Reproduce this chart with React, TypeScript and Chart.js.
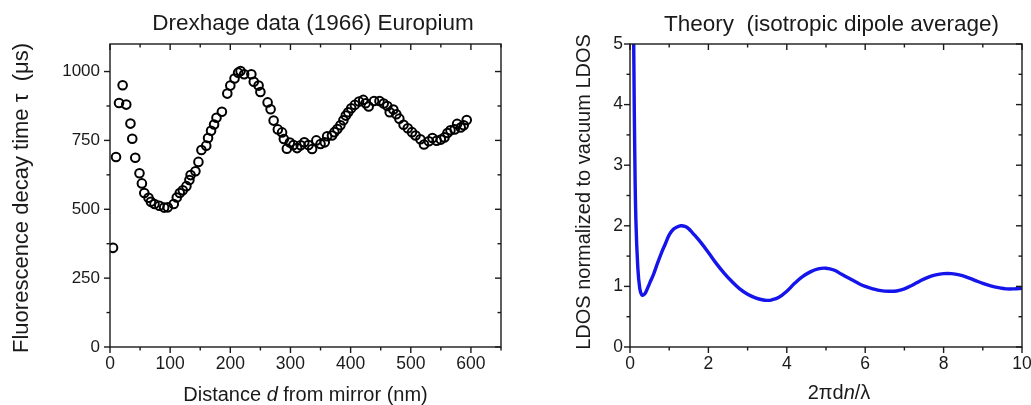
import React, { useEffect, useRef } from "react";
import { Chart, registerables } from "chart.js";

Chart.register(...registerables);

// ---------------- DATA ----------------
// Left panel: Drexhage data (1966), distance d (nm) and decay time (µs)
const drexhageDistance = [
  5, 10, 15, 21, 27, 34, 37, 42, 49, 53, 57, 64, 68, 74, 82, 90, 96, 106, 111, 116,
  121, 127, 132, 134, 142, 147, 152, 160, 163, 168, 173, 177, 186, 195, 200, 207, 213, 217, 223, 235,
  239, 247, 250, 262, 267, 272, 279, 286, 289, 294, 299, 305, 311, 317, 323, 330, 336, 343, 350, 357,
  361, 369, 373, 378, 383, 388, 392, 396, 401, 407, 414, 421, 425, 430, 439, 448, 455, 461, 465, 471,
  476, 481, 488, 495, 502, 508, 516, 522, 530, 536, 543, 550, 556, 561, 566, 573, 577, 583, 588, 593,
];
const drexhageLifetime = [
  360, 690, 886, 950, 880, 811, 756, 687, 631, 594, 559, 542, 527, 519, 513, 506, 507, 519, 543, 559,
  569, 584, 606, 624, 638, 672, 715, 731, 759, 785, 808, 832, 854, 920, 949, 975, 996, 1002, 990, 990,
  963, 949, 926, 888, 863, 822, 790, 779, 755, 720, 742, 733, 722, 732, 743, 733, 719, 750, 737, 743,
  765, 768, 780, 791, 805, 823, 840, 852, 867, 879, 891, 897, 885, 873, 893, 893, 884, 875, 852, 862,
  845, 829, 807, 794, 780, 768, 754, 735, 747, 759, 749, 753, 761, 777, 787, 790, 810, 797, 805, 824,
];
const leftXTicks = [0, 100, 200, 300, 400, 500, 600];
const leftXMinor = [50, 150, 250, 350, 450, 550, 650];
const leftYTicks = [0, 250, 500, 750, 1000];
const leftYMinor = [125, 375, 625, 875];

// Right panel: theory, 2πdn/λ and normalized LDOS
const phase = [
  0.06, 0.08, 0.1, 0.12, 0.15, 0.2, 0.25, 0.3, 0.35, 0.4, 0.5, 0.6, 0.7, 0.8, 0.9, 1.0, 1.1, 1.2, 1.3, 1.4,
  1.5, 1.6, 1.8, 2.0, 2.2, 2.4, 2.6, 2.8, 3.0, 3.2, 3.4, 3.5, 3.6, 3.8, 4.0, 4.2, 4.4, 4.6, 4.8, 5.0,
  5.2, 5.4, 5.6, 5.8, 6.0, 6.2, 6.4, 6.6, 6.8, 7.0, 7.2, 7.4, 7.6, 7.8, 8.0, 8.2, 8.4, 8.6, 8.8, 9.0,
  9.2, 9.4, 9.6, 9.8, 10.0,
];
const ldos = [
  9.0, 6.2, 4.6, 3.3, 2.1, 1.3, 0.96, 0.86, 0.86, 0.9, 1.05, 1.2, 1.38, 1.55, 1.7, 1.85, 1.94, 1.98, 2.0, 1.99,
  1.95, 1.88, 1.73, 1.56, 1.38, 1.22, 1.08, 0.96, 0.87, 0.81, 0.775, 0.77, 0.775, 0.82, 0.92, 1.05, 1.16, 1.24, 1.29, 1.3,
  1.27, 1.2, 1.13, 1.06, 1.0, 0.96, 0.93, 0.92, 0.925, 0.96, 1.02, 1.09, 1.15, 1.19, 1.21, 1.21, 1.19, 1.15, 1.1, 1.05,
  1.01, 0.98, 0.96, 0.96, 0.97,
];
const rightXTicks = [0, 2, 4, 6, 8, 10];
const rightXMinor = [1, 3, 5, 7, 9];
const rightYTicks = [0, 1, 2, 3, 4, 5];
const rightYMinor = [0.5, 1.5, 2.5, 3.5, 4.5];

const leftTitle = "Drexhage data (1966) Europium";
const rightTitle = "Theory  (isotropic dipole average)";
const leftXLabel = [{ t: "Distance " }, { t: "d", italic: true }, { t: " from mirror (nm)" }];
const leftYLabel = [{ t: "Fluorescence decay time τ  (μs)" }];
const rightXLabel = [{ t: "2πd" }, { t: "n", italic: true }, { t: "/λ" }];
const rightYLabel = [{ t: "LDOS normalized to vacuum LDOS" }];

// ---------------- STYLE ----------------
const FONT = "'Liberation Sans', Arial, Helvetica, sans-serif";
const INK = "#1a1a1a";

type Seg = { t: string; italic?: boolean };

function drawSegs(ctx: CanvasRenderingContext2D, segs: Seg[], size: number, cx: number, cy: number, rotate: boolean) {
  ctx.save();
  ctx.translate(cx, cy);
  if (rotate) ctx.rotate(-Math.PI / 2);
  ctx.fillStyle = INK;
  ctx.textAlign = "left";
  ctx.textBaseline = "alphabetic";
  const fonts = segs.map((s) => `${s.italic ? "italic " : ""}${size}px ${FONT}`);
  const widths = segs.map((s, i) => {
    ctx.font = fonts[i];
    return ctx.measureText(s.t).width;
  });
  const total = widths.reduce((a, b) => a + b, 0);
  let x = -total / 2;
  segs.forEach((s, i) => {
    ctx.font = fonts[i];
    ctx.fillText(s.t, x, 0);
    x += widths[i];
  });
  ctx.restore();
}

type Deco = {
  xMajor: number[];
  xMinor: number[];
  yMajor: number[];
  yMinor: number[];
  title: string;
  titleX: number;
  titleY: number;
  xLabel: Seg[];
  xLabelX: number;
  xLabelY: number;
  yLabel: Seg[];
  yLabelX: number;
  yLabelY: number;
  yLabelSize: number;
};

function decoPlugin(d: Deco) {
  return {
    id: "deco",
    afterDraw(chart: any) {
      const { ctx, chartArea: a, scales } = chart;
      const xs = scales.x;
      const ys = scales.y;
      ctx.save();
      ctx.strokeStyle = INK;
      ctx.lineWidth = 1.4;
      ctx.strokeRect(a.left, a.top, a.right - a.left, a.bottom - a.top);
      const seg = (x1: number, y1: number, x2: number, y2: number) => {
        ctx.beginPath();
        ctx.moveTo(x1, y1);
        ctx.lineTo(x2, y2);
        ctx.stroke();
      };
      const MAJ = 6;
      const MIN = 3.5;
      d.xMajor.forEach((v) => {
        const p = xs.getPixelForValue(v);
        seg(p, a.bottom, p, a.bottom + MAJ);
        seg(p, a.top, p, a.top + MAJ);
      });
      d.xMinor.forEach((v) => {
        const p = xs.getPixelForValue(v);
        seg(p, a.bottom, p, a.bottom + MIN);
        seg(p, a.top, p, a.top + MIN);
      });
      d.yMajor.forEach((v) => {
        const p = ys.getPixelForValue(v);
        seg(a.left - MAJ, p, a.left, p);
        seg(a.right - MAJ, p, a.right, p);
      });
      d.yMinor.forEach((v) => {
        const p = ys.getPixelForValue(v);
        seg(a.left - MIN, p, a.left, p);
        seg(a.right - MIN, p, a.right, p);
      });
      ctx.restore();
      drawSegs(ctx, [{ t: d.title }], 22.5, d.titleX, d.titleY, false);
      drawSegs(ctx, d.xLabel, 20, d.xLabelX, d.xLabelY, false);
      drawSegs(ctx, d.yLabel, d.yLabelSize, d.yLabelX, d.yLabelY, true);
    },
  };
}

function axis(min: number, max: number, ticks: number[], pad: number, isX: boolean, size: number, yWidth: number) {
  return {
    type: "linear" as const,
    min,
    max,
    grid: { display: false, drawTicks: false },
    border: { display: false },
    ticks: {
      padding: pad,
      autoSkip: false,
      maxRotation: 0,
      color: INK,
      font: { size, family: FONT },
      callback: (v: any) => String(v),
    },
    afterBuildTicks: (s: any) => {
      s.ticks = ticks.map((v) => ({ value: v }));
    },
    afterFit: (s: any) => {
      if (isX) s.height = 58;
      else s.width = yWidth;
      s.paddingLeft = 0;
      s.paddingRight = 0;
      s.paddingTop = 0;
      s.paddingBottom = 0;
    },
  };
}

export default function App() {
  const leftRef = useRef<HTMLCanvasElement>(null);
  const rightRef = useRef<HTMLCanvasElement>(null);

  useEffect(() => {
    Chart.defaults.font.family = FONT;
    const leftChart = new Chart(leftRef.current!, {
      type: "scatter",
      data: {
        datasets: [
          {
            data: drexhageDistance.map((x, i) => ({ x, y: drexhageLifetime[i] })),
            pointStyle: "circle",
            pointRadius: 4.3,
            borderWidth: 2,
            borderColor: "#000",
            backgroundColor: "rgba(0,0,0,0)",
          },
        ],
      },
      options: {
        responsive: false,
        animation: false,
        layout: { padding: { top: 44, right: 14, left: 0, bottom: 0 } },
        plugins: { legend: { display: false }, title: { display: false }, tooltip: { enabled: false } },
        scales: {
          x: axis(0, 650, leftXTicks, 7, true, 17.5, 0),
          y: axis(0, 1100, leftYTicks, 10, false, 17, 110),
        },
      },
      plugins: [
        decoPlugin({
          xMajor: leftXTicks,
          xMinor: leftXMinor,
          yMajor: leftYTicks,
          yMinor: leftYMinor,
          title: leftTitle,
          titleX: 313,
          titleY: 30,
          xLabel: leftXLabel,
          xLabelX: 305.5,
          xLabelY: 401,
          yLabel: leftYLabel,
          yLabelX: 28,
          yLabelY: 198,
          yLabelSize: 22,
        }),
      ],
    } as any);

    const rightChart = new Chart(rightRef.current!, {
      type: "line",
      data: {
        datasets: [
          {
            data: phase.map((x, i) => ({ x, y: ldos[i] })),
            borderColor: "rgb(20,20,235)",
            borderWidth: 3.4,
            pointRadius: 0,
            tension: 0.4,
            fill: false,
          },
        ],
      },
      options: {
        responsive: false,
        animation: false,
        layout: { padding: { top: 44, right: 9, left: 0, bottom: 0 } },
        plugins: { legend: { display: false }, title: { display: false }, tooltip: { enabled: false } },
        scales: {
          x: axis(0, 10, rightXTicks, 7, true, 17.5, 0),
          y: axis(0, 5, rightYTicks, 7, false, 17.5, 115),
        },
      },
      plugins: [
        decoPlugin({
          xMajor: rightXTicks,
          xMinor: rightXMinor,
          yMajor: rightYTicks,
          yMinor: rightYMinor,
          title: rightTitle,
          titleX: 316.5,
          titleY: 31,
          xLabel: rightXLabel,
          xLabelX: 324,
          xLabelY: 399,
          yLabel: rightYLabel,
          yLabelX: 75,
          yLabelY: 192,
          yLabelSize: 20,
        }),
      ],
    } as any);

    return () => {
      leftChart.destroy();
      rightChart.destroy();
    };
  }, []);

  return (
    <div style={{ position: "fixed", left: 0, top: 0, width: 1031, height: 405, background: "#fff", overflow: "hidden" }}>
      <canvas ref={leftRef} width={515} height={405} style={{ position: "absolute", left: 0, top: 0, width: 515, height: 405 }} />
      <canvas ref={rightRef} width={516} height={405} style={{ position: "absolute", left: 515, top: 0, width: 516, height: 405 }} />
    </div>
  );
}
